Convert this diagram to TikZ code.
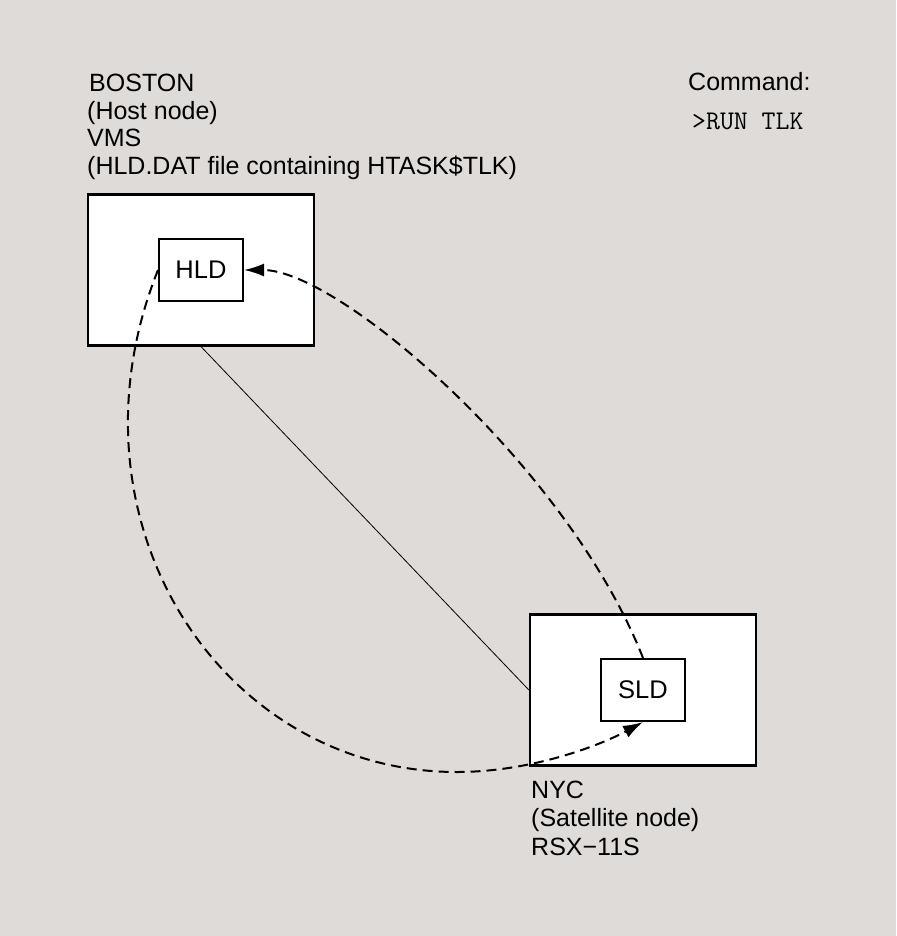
\documentclass[tikz,border=0pt]{standalone}
\usepackage{fontspec}
\setmainfont{Liberation Sans}
\usepackage{tikz}
\usetikzlibrary{positioning,arrows.meta}
\definecolor{paper}{RGB}{223,219,216}
\tikzstyle{site}=[rectangle, draw=black, fill=white, line width=2.2pt, minimum width=226pt, minimum height=151pt, inner sep=0pt]
\tikzstyle{loader}=[rectangle, draw=black, fill=white, line width=2pt, minimum width=84pt, minimum height=62pt, inner sep=0pt, font=\fontsize{25.5}{30}\selectfont]
\tikzstyle{sitetext}=[inner sep=0pt, align=left, anchor=base west, text=black, font=\fontsize{25}{27.5}\selectfont]
\tikzstyle{link}=[dash pattern=on 10pt off 6pt, line width=2pt]
\tikzset{>={Latex[length=20pt,width=13pt]}}

\begin{document}
\begin{tikzpicture}[x=1pt,y=-1pt]

    \useasboundingbox (0,0) rectangle (896,936);
    \fill[paper] (0,0) rectangle (896,936);

    \node(boston)[site] at (201,270) {};
    \node(hld)[loader] at (boston) {HLD};
    \node(nyc)[site] at (643,690) {};
    \node(sld)[loader] at (nyc) {SLD};

    % base anchor sits on the last line
    \node(bostonText)[sitetext] at (87,174.5) {\hspace{2pt}BOSTON\\(Host node)\\VMS\\(HLD.DAT file containing HTASK\$TLK)};
    \node(nycText)[sitetext, font=\fontsize{25}{28.5}\selectfont] at (531,855) {NYC\\(Satellite node)\\RSX−11S};
    \node(cmdText)[sitetext] at (688,91) {Command:};
    \node(cmdLine)[sitetext, font=\ttfamily\fontsize{27}{30}\selectfont] at (692,130) {>RUN TLK};

    \draw [line width=0.8pt] (boston.south) -- (nyc.west);

    \coordinate (loopBottom) at (457,772);
    \draw [link, ->] (hld.west) .. controls +(-100,250) and +(-237,0) .. (loopBottom)
        .. controls +(73,0) and +(-44,24) .. (sld.south);
    \draw [link, ->] (sld.north) .. controls +(-74,-189) and +(96,0) .. (hld.east);

\end{tikzpicture}
\end{document}
